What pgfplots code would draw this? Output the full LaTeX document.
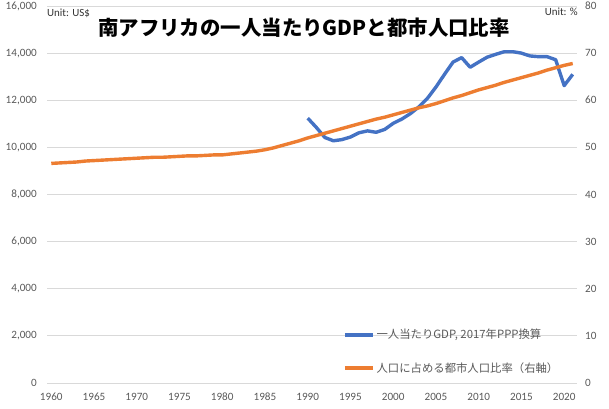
\documentclass[border=0pt]{standalone}
\usepackage{pgfplots}
\usepackage{pgfplotstable}
\pgfplotsset{compat=1.18}
\usepackage{fontspec}
\setmainfont{Carlito}
\newfontfamily\cjk{Noto Sans CJK JP}
\definecolor{xblue}{HTML}{4472C4}
\definecolor{xorange}{HTML}{ED7D31}
\definecolor{xgrid}{HTML}{D9D9D9}
\definecolor{xtext}{HTML}{595959}
\pgfplotstableread{
year gdp
1990 11240
1991 10850
1992 10420
1993 10280
1994 10330
1995 10440
1996 10620
1997 10700
1998 10640
1999 10760
2000 11020
2001 11200
2002 11430
2003 11720
2004 12080
2005 12560
2006 13100
2007 13620
2008 13810
2009 13400
2010 13620
2011 13830
2012 13950
2013 14060
2014 14060
2015 14000
2016 13880
2017 13850
2018 13850
2019 13720
2020 12620
2021 13100
}\gdp
\pgfplotstableread{
year urb
1960 46.6
1961 46.7
1962 46.8
1963 46.9
1964 47.1
1965 47.2
1966 47.3
1967 47.4
1968 47.5
1969 47.6
1970 47.7
1971 47.8
1972 47.9
1973 47.9
1974 48.0
1975 48.1
1976 48.2
1977 48.2
1978 48.3
1979 48.4
1980 48.4
1981 48.6
1982 48.8
1983 49.0
1984 49.2
1985 49.5
1986 49.9
1987 50.4
1988 50.9
1989 51.4
1990 52.0
1991 52.5
1992 53.0
1993 53.5
1994 54.0
1995 54.5
1996 55.0
1997 55.5
1998 56.0
1999 56.4
2000 56.9
2001 57.4
2002 57.9
2003 58.4
2004 58.8
2005 59.3
2006 59.9
2007 60.5
2008 61.0
2009 61.6
2010 62.2
2011 62.7
2012 63.2
2013 63.8
2014 64.3
2015 64.8
2016 65.3
2017 65.8
2018 66.4
2019 66.9
2020 67.4
2021 67.8
}\urb
\begin{document}
\begin{tikzpicture}[x=1bp,y=1bp]
\pgfplotsset{
  common/.style={
    at={(47bp,25bp)}, anchor=south west,
    width=530bp, height=377bp, scale only axis,
    xmin=1959.5, xmax=2021.5,
    axis line style={draw=none}, major tick length=0pt,
    tick label style={font=\fontsize{11.2}{13}\selectfont, text=xtext, inner sep=0pt},
    /pgf/number format/assume math mode=true,
    scaled ticks=false,
  }
}
\begin{axis}[common,
  ymin=0, ymax=16000,
  xtick={1960,1965,...,2020}, ytick={0,2000,...,16000},
  ymajorgrids, grid style={xgrid, line width=0.8bp},
  xticklabel style={/pgf/number format/1000 sep={}},
  yticklabel style={/pgf/number format/1000 sep={,}},
  xticklabel shift=10bp, yticklabel shift=10bp,
]
\addplot[xblue, line width=3.4bp, line join=round] table[x=year,y=gdp] {\gdp};
\end{axis}
\begin{axis}[common,
  ymin=0, ymax=80,
  axis y line*=right, axis x line=none,
  ytick={0,10,...,80},
  yticklabel shift=8bp,
  legend style={at={(0.5585,0.143)}, anchor=north west, draw=none, fill=none,
    inner sep=0pt, row sep=22bp, column sep=2bp,
    font=\cjk\fontsize{11.4}{13}\selectfont, text=xtext, nodes={inner sep=0pt}},
  legend cell align=left,
  legend image code/.code={\draw[#1] (0bp,0bp) -- (28bp,0bp);},
]
\addlegendimage{xblue, line width=3.4bp}
\addlegendentry{一人当たりGDP, 2017年PPP換算}
\addplot[xorange, line width=3.4bp, line join=round] table[x=year,y=urb] {\urb};
\addlegendentry{人口に占める都市人口比率（右軸）}
\end{axis}
\node[anchor=west, inner sep=0pt, font=\fontsize{11}{13}\selectfont, text=black!80] at (47,395) {Unit: US\$};
\node[anchor=east, inner sep=0pt, font=\fontsize{11}{13}\selectfont, text=black!80] at (578,396) {Unit: \%};
\node[inner sep=0pt, font=\cjk\bfseries\fontsize{20.5}{24}\selectfont] at (304,380) {南アフリカの一人当たりGDPと都市人口比率};
\pgfresetboundingbox
\useasboundingbox (0,0) rectangle (609,408);
\end{tikzpicture}
\end{document}
